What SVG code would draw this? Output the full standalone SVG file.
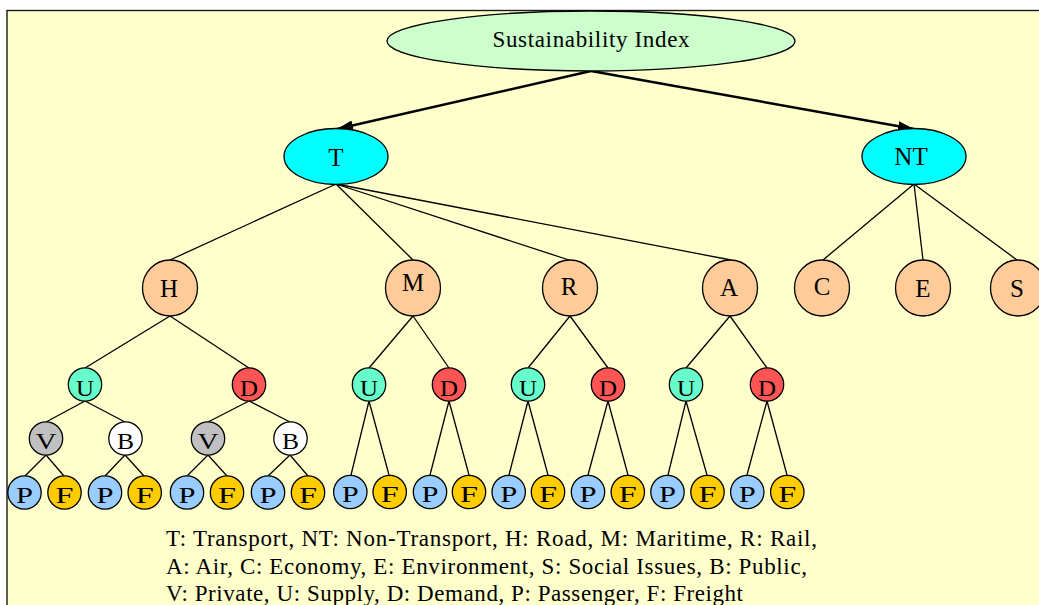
<svg xmlns="http://www.w3.org/2000/svg" width="1039" height="605" viewBox="0 0 1039 605">
<style>
  .bg { fill: #ffffcc; stroke: #1a1a1a; stroke-width: 1.4; }
  .n { stroke: #000; stroke-width: 1.3; }
  .top { fill: #ccffcc; }
  .cy { fill: #00ffff; }
  .pe { fill: #ffcc99; }
  .u { fill: #66ffcc; }
  .d { fill: #ff5555; }
  .v { fill: #c0c0c0; }
  .b { fill: #ffffff; }
  .p { fill: #99ccff; }
  .f { fill: #ffcc00; }
  text { font-family: "Liberation Serif", "Times New Roman", serif; fill: #000; text-anchor: middle; }
  .big { font-size: 25px; }
  .sm { font-size: 24px; }
  .ttl { font-size: 23px; }
  .leg { font-size: 23px; text-anchor: start; }
  .e { stroke: #000; stroke-width: 1.3; fill: none; }
  .ea { stroke: #000; stroke-width: 2.4; fill: none; marker-end: url(#arr); }
</style>
<defs>
  <marker id="arr" markerUnits="userSpaceOnUse" markerWidth="18" markerHeight="12" refX="16" refY="5" orient="auto">
    <path d="M0,0 L16,5 L0,10 z" fill="#000"/>
  </marker>
</defs>
<rect x="0" y="0" width="1039" height="605" fill="#ffffff"/>
<rect class="bg" x="7" y="10.5" width="1100" height="700"/>

<g id="connectors">
  <line class="ea" x1="591" y1="71" x2="337" y2="129"/>
  <line class="ea" x1="591" y1="71" x2="914" y2="129"/>
  <line class="e" x1="336" y1="184" x2="170" y2="260"/>
  <line class="e" x1="336" y1="184" x2="413" y2="260"/>
  <line class="e" x1="336" y1="184" x2="569" y2="260"/>
  <line class="e" x1="336" y1="184" x2="731" y2="260"/>
  <line class="e" x1="914" y1="184" x2="823" y2="260"/>
  <line class="e" x1="914" y1="184" x2="923" y2="260"/>
  <line class="e" x1="914" y1="184" x2="1017" y2="260"/>
  <line class="e" x1="170" y1="316" x2="85" y2="368"/>
  <line class="e" x1="170" y1="316" x2="249" y2="368"/>
  <line class="e" x1="413" y1="316" x2="369" y2="368"/>
  <line class="e" x1="413" y1="316" x2="449" y2="368"/>
  <line class="e" x1="570" y1="316" x2="528" y2="368"/>
  <line class="e" x1="570" y1="316" x2="608" y2="368"/>
  <line class="e" x1="730" y1="316" x2="686" y2="368"/>
  <line class="e" x1="730" y1="316" x2="767" y2="368"/>
  <line class="e" x1="85" y1="401" x2="46" y2="422"/>
  <line class="e" x1="85" y1="401" x2="125" y2="422"/>
  <line class="e" x1="249" y1="401" x2="208" y2="422"/>
  <line class="e" x1="249" y1="401" x2="290" y2="422"/>
  <line class="e" x1="46" y1="455" x2="25" y2="476"/>
  <line class="e" x1="46" y1="455" x2="64" y2="476"/>
  <line class="e" x1="125" y1="455" x2="105" y2="476"/>
  <line class="e" x1="125" y1="455" x2="144" y2="476"/>
  <line class="e" x1="208" y1="455" x2="187" y2="476"/>
  <line class="e" x1="208" y1="455" x2="227" y2="476"/>
  <line class="e" x1="290" y1="455" x2="268" y2="476"/>
  <line class="e" x1="290" y1="455" x2="308" y2="476"/>
  <line class="e" x1="369" y1="401" x2="351" y2="475"/>
  <line class="e" x1="369" y1="401" x2="389" y2="475"/>
  <line class="e" x1="449" y1="401" x2="430" y2="475"/>
  <line class="e" x1="449" y1="401" x2="469" y2="475"/>
  <line class="e" x1="528" y1="401" x2="509" y2="475"/>
  <line class="e" x1="528" y1="401" x2="548" y2="475"/>
  <line class="e" x1="608" y1="401" x2="588" y2="475"/>
  <line class="e" x1="608" y1="401" x2="628" y2="475"/>
  <line class="e" x1="686" y1="401" x2="668" y2="475"/>
  <line class="e" x1="686" y1="401" x2="707" y2="475"/>
  <line class="e" x1="767" y1="401" x2="747" y2="475"/>
  <line class="e" x1="767" y1="401" x2="787" y2="475"/>
</g>

<g id="node-si"><ellipse class="n top" cx="591" cy="41" rx="204" ry="30"/><text class="ttl" x="591" y="47" textLength="197" lengthAdjust="spacing">Sustainability Index</text></g>
<g id="node-T"><ellipse class="n cy" cx="336" cy="156.5" rx="52" ry="28"/><text class="big" x="336" y="166">T</text></g>
<g id="node-NT"><ellipse class="n cy" cx="914" cy="156.5" rx="52" ry="28"/><text class="big" x="911" y="165">NT</text></g>

<g id="node-H"><ellipse class="n pe" cx="170" cy="288" rx="27.5" ry="28"/><text class="big" x="169" y="297">H</text></g>
<g id="node-M"><ellipse class="n pe" cx="413" cy="288" rx="27.5" ry="28"/><text class="big" x="413" y="291">M</text></g>
<g id="node-R"><ellipse class="n pe" cx="570" cy="288" rx="27.5" ry="28"/><text class="big" x="569" y="295">R</text></g>
<g id="node-A"><ellipse class="n pe" cx="730" cy="288" rx="27.5" ry="28"/><text class="big" x="729" y="296">A</text></g>
<g id="node-C"><ellipse class="n pe" cx="822" cy="288" rx="27.5" ry="28"/><text class="big" x="822" y="295">C</text></g>
<g id="node-E"><ellipse class="n pe" cx="923" cy="288" rx="27.5" ry="28"/><text class="big" x="923" y="297">E</text></g>
<g id="node-S"><ellipse class="n pe" cx="1018" cy="288" rx="27.5" ry="28"/><text class="big" x="1017" y="297">S</text></g>

<g id="node-U1"><circle class="n u" cx="85" cy="384.5" r="16.7"/><text class="sm" x="85" y="396" textLength="18" lengthAdjust="spacingAndGlyphs">U</text></g>
<g id="node-D1"><circle class="n d" cx="249" cy="384.5" r="16.7"/><text class="sm" x="249" y="396" textLength="18" lengthAdjust="spacingAndGlyphs">D</text></g>
<g id="node-U2"><circle class="n u" cx="369" cy="384.5" r="16.7"/><text class="sm" x="369" y="396" textLength="18" lengthAdjust="spacingAndGlyphs">U</text></g>
<g id="node-D2"><circle class="n d" cx="449" cy="384.5" r="16.7"/><text class="sm" x="449" y="396" textLength="18" lengthAdjust="spacingAndGlyphs">D</text></g>
<g id="node-U3"><circle class="n u" cx="528" cy="384.5" r="16.7"/><text class="sm" x="528" y="396" textLength="18" lengthAdjust="spacingAndGlyphs">U</text></g>
<g id="node-D3"><circle class="n d" cx="608" cy="384.5" r="16.7"/><text class="sm" x="608" y="396" textLength="18" lengthAdjust="spacingAndGlyphs">D</text></g>
<g id="node-U4"><circle class="n u" cx="686" cy="384.5" r="16.7"/><text class="sm" x="686" y="396" textLength="18" lengthAdjust="spacingAndGlyphs">U</text></g>
<g id="node-D4"><circle class="n d" cx="767" cy="384.5" r="16.7"/><text class="sm" x="767" y="396" textLength="18" lengthAdjust="spacingAndGlyphs">D</text></g>

<g id="node-V1"><circle class="n v" cx="46" cy="438.5" r="16.7"/><text class="sm" x="46" y="449" textLength="21" lengthAdjust="spacingAndGlyphs">V</text></g>
<g id="node-B1"><circle class="n b" cx="125.5" cy="438.5" r="16.7"/><text class="sm" x="125.5" y="449" textLength="17" lengthAdjust="spacingAndGlyphs">B</text></g>
<g id="node-V2"><circle class="n v" cx="208" cy="438.5" r="16.7"/><text class="sm" x="208" y="449" textLength="21" lengthAdjust="spacingAndGlyphs">V</text></g>
<g id="node-B2"><circle class="n b" cx="290.5" cy="438.5" r="16.7"/><text class="sm" x="290.5" y="449" textLength="17" lengthAdjust="spacingAndGlyphs">B</text></g>

<g id="node-P1"><circle class="n p" cx="24.5" cy="492.5" r="16.7"/><text class="sm" x="24.5" y="502.5" textLength="17" lengthAdjust="spacingAndGlyphs">P</text></g>
<g id="node-F1"><circle class="n f" cx="64.5" cy="492.5" r="16.7"/><text class="sm" x="64.5" y="502.5" textLength="18" lengthAdjust="spacingAndGlyphs">F</text></g>
<g id="node-P2"><circle class="n p" cx="105" cy="492.5" r="16.7"/><text class="sm" x="105" y="502.5" textLength="17" lengthAdjust="spacingAndGlyphs">P</text></g>
<g id="node-F2"><circle class="n f" cx="144.7" cy="492.5" r="16.7"/><text class="sm" x="144.7" y="502.5" textLength="18" lengthAdjust="spacingAndGlyphs">F</text></g>
<g id="node-P3"><circle class="n p" cx="187" cy="492.5" r="16.7"/><text class="sm" x="187" y="502.5" textLength="17" lengthAdjust="spacingAndGlyphs">P</text></g>
<g id="node-F3"><circle class="n f" cx="227" cy="492.5" r="16.7"/><text class="sm" x="227" y="502.5" textLength="18" lengthAdjust="spacingAndGlyphs">F</text></g>
<g id="node-P4"><circle class="n p" cx="268" cy="492.5" r="16.7"/><text class="sm" x="268" y="502.5" textLength="17" lengthAdjust="spacingAndGlyphs">P</text></g>
<g id="node-F4"><circle class="n f" cx="308" cy="492.5" r="16.7"/><text class="sm" x="308" y="502.5" textLength="18" lengthAdjust="spacingAndGlyphs">F</text></g>
<g id="node-P5"><circle class="n p" cx="350.3" cy="492" r="16.7"/><text class="sm" x="350.3" y="502" textLength="17" lengthAdjust="spacingAndGlyphs">P</text></g>
<g id="node-F5"><circle class="n f" cx="389.7" cy="492" r="16.7"/><text class="sm" x="389.7" y="502" textLength="18" lengthAdjust="spacingAndGlyphs">F</text></g>
<g id="node-P6"><circle class="n p" cx="430" cy="492" r="16.7"/><text class="sm" x="430" y="502" textLength="17" lengthAdjust="spacingAndGlyphs">P</text></g>
<g id="node-F6"><circle class="n f" cx="469" cy="492" r="16.7"/><text class="sm" x="469" y="502" textLength="18" lengthAdjust="spacingAndGlyphs">F</text></g>
<g id="node-P7"><circle class="n p" cx="508.7" cy="492" r="16.7"/><text class="sm" x="508.7" y="502" textLength="17" lengthAdjust="spacingAndGlyphs">P</text></g>
<g id="node-F7"><circle class="n f" cx="548" cy="492" r="16.7"/><text class="sm" x="548" y="502" textLength="18" lengthAdjust="spacingAndGlyphs">F</text></g>
<g id="node-P8"><circle class="n p" cx="588" cy="492" r="16.7"/><text class="sm" x="588" y="502" textLength="17" lengthAdjust="spacingAndGlyphs">P</text></g>
<g id="node-F8"><circle class="n f" cx="627.8" cy="492" r="16.7"/><text class="sm" x="627.8" y="502" textLength="18" lengthAdjust="spacingAndGlyphs">F</text></g>
<g id="node-P9"><circle class="n p" cx="667.5" cy="492" r="16.7"/><text class="sm" x="667.5" y="502" textLength="17" lengthAdjust="spacingAndGlyphs">P</text></g>
<g id="node-F9"><circle class="n f" cx="707.5" cy="492" r="16.7"/><text class="sm" x="707.5" y="502" textLength="18" lengthAdjust="spacingAndGlyphs">F</text></g>
<g id="node-P10"><circle class="n p" cx="747.3" cy="492" r="16.7"/><text class="sm" x="747.3" y="502" textLength="17" lengthAdjust="spacingAndGlyphs">P</text></g>
<g id="node-F10"><circle class="n f" cx="787.3" cy="492" r="16.7"/><text class="sm" x="787.3" y="502" textLength="18" lengthAdjust="spacingAndGlyphs">F</text></g>

<g id="legend">
  <text class="leg" x="166" y="545.5" textLength="651" lengthAdjust="spacing">T: Transport, NT: Non-Transport, H: Road, M: Maritime, R: Rail,</text>
  <text class="leg" x="166" y="574" textLength="641" lengthAdjust="spacing">A: Air, C: Economy, E: Environment, S: Social Issues, B: Public,</text>
  <text class="leg" x="166" y="600.5" textLength="577" lengthAdjust="spacing">V: Private, U: Supply, D: Demand, P: Passenger, F: Freight</text>
</g>
</svg>
